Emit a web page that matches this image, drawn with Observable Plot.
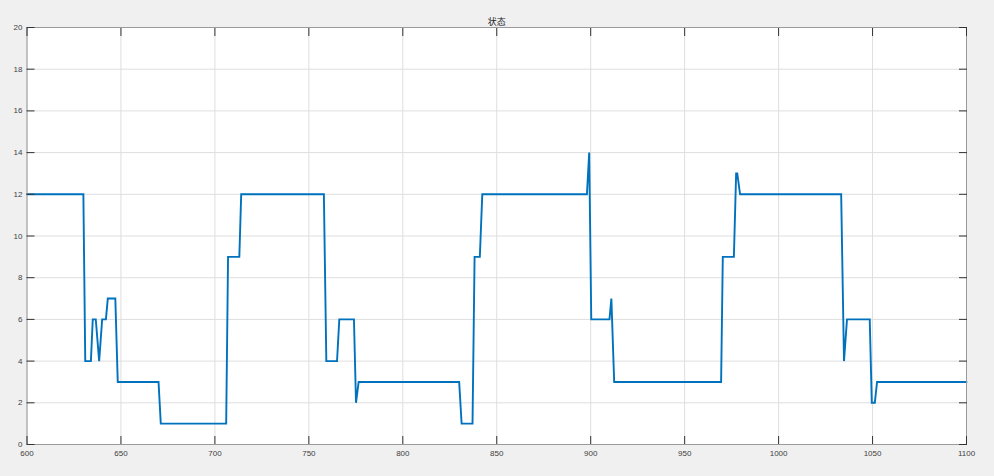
<!DOCTYPE html>
<html>
<head>
<meta charset="utf-8">
<script src="https://cdn.jsdelivr.net/npm/d3@7"></script>
<script src="https://cdn.jsdelivr.net/npm/@observablehq/plot@0.6"></script>
<style>
  html, body { margin: 0; padding: 0; background: #f0f0f0; }
  #chart { width: 994px; height: 476px; }
</style>
</head>
<body>
<div id="chart"></div>
<script>
const title = "状态";
const xTicks = [600, 650, 700, 750, 800, 850, 900, 950, 1000, 1050, 1100];
const yTicks = [0, 2, 4, 6, 8, 10, 12, 14, 16, 18, 20];
const xs = [600, 630, 631, 634, 635, 636.6, 638.4, 640, 642, 643, 647, 648.3, 670, 671.2, 706, 707, 713, 714, 758, 759.3, 765, 766.2, 774, 775.1, 776.5, 830, 831.3, 837.1, 838.2, 841, 842.3, 898, 899.2, 900.3, 910, 911, 912.5, 969.4, 970.3, 976.2, 977.4, 978, 979.5, 1033.3, 1034.8, 1036.4, 1048.5, 1049.6, 1051.2, 1052.4, 1100];
const ys = [12, 12, 4, 4, 6, 6, 4, 6, 6, 7, 7, 3, 3, 1, 1, 9, 9, 12, 12, 4, 4, 6, 6, 2, 3, 3, 1, 1, 9, 9, 12, 12, 14, 6, 6, 7, 3, 3, 9, 9, 13, 13, 12, 12, 4, 6, 6, 2, 2, 3, 3];

const data = xs.map((x, i) => ({x, y: ys[i]}));
const font = "'Liberation Sans', Arial, sans-serif";
const noLabel = () => "";
const intLabel = d3.format("d");

const chart = Plot.plot({
  width: 994,
  height: 476,
  marginLeft: 26.5,
  marginRight: 28,
  marginTop: 27,
  marginBottom: 32,
  style: {background: "#f0f0f0", fontFamily: font, fontSize: "8px", color: "#404040", overflow: "visible"},
  x: {domain: [600, 1100], label: null},
  y: {domain: [0, 20], label: null},
  marks: [
    Plot.frame({fill: "white", stroke: null}),
    Plot.gridX(xTicks, {stroke: "#dedede", strokeOpacity: 1}),
    Plot.gridY(yTicks, {stroke: "#dedede", strokeOpacity: 1}),
    Plot.line(data, {x: "x", y: "y", stroke: "#0072BD", strokeWidth: 1.9, strokeLinejoin: "miter", strokeMiterlimit: 4}),
    Plot.frame({stroke: "#9a9a9a", strokeWidth: 1}),
    Plot.axisX(xTicks, {anchor: "bottom", tickSize: -8, tickPadding: 13.5, tickFormat: intLabel, stroke: "#333", fill: "#404040"}),
    Plot.axisX(xTicks, {anchor: "top", tickSize: -8, tickFormat: noLabel, stroke: "#333"}),
    Plot.axisY(yTicks, {anchor: "left", tickSize: -8, tickPadding: 12.5, tickFormat: intLabel, stroke: "#333", fill: "#404040"}),
    Plot.axisY(yTicks, {anchor: "right", tickSize: -8, tickFormat: noLabel, stroke: "#333"}),
    Plot.text([title], {frameAnchor: "top", dy: -9, fontFamily: "'Noto Sans CJK SC', sans-serif", fontSize: 9, fill: "#262626"})
  ]
});
document.getElementById("chart").append(chart);
</script>
</body>
</html>
